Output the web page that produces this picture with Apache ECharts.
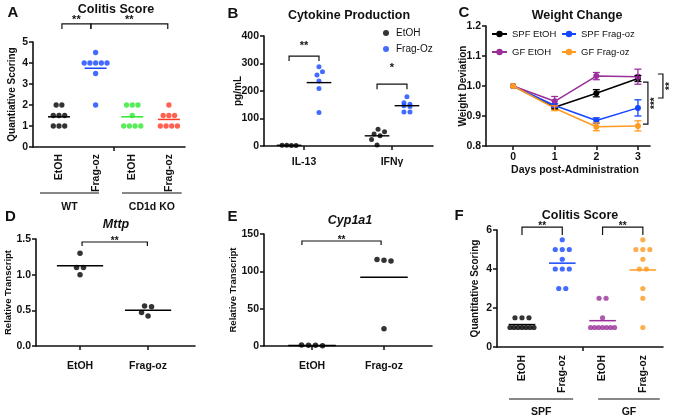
<!DOCTYPE html>
<html><head><meta charset="utf-8">
<script src="https://cdn.jsdelivr.net/npm/echarts@6/dist/echarts.min.js"></script>
<style>html,body{margin:0;padding:0;background:#fff}#c{width:676px;height:419px}</style>
</head><body><div id="c"></div>
<script>
// ================= DATA =================
// Panel A – Colitis Score (WT / CD1d KO)
const aCategories = ['EtOH', 'Frag-oz', 'EtOH', 'Frag-oz'];
const aGroups = ['WT', 'CD1d KO'];
const aWtEtoh = [2, 2, 1.5, 1.5, 1.5, 1, 1, 1];
const aWtFrag = [4.5, 4, 4, 4, 4, 4, 3.5, 2];
const aKoEtoh = [2, 2, 2, 1.5, 1, 1, 1, 1];
const aKoFrag = [2, 1.5, 1.5, 1.5, 1, 1, 1, 1];
const aSigLabels = ['**', '**'];

// Panel B – Cytokine Production
const bCategories = ['IL-13', 'IFNγ'];
const bTreatments = ['EtOH', 'Frag-Oz'];
const bEtohIl13 = [3, 2, 2, 3];
const bEtohIfng = [61, 52, 44, 37, 24, 4];
const bFragIl13 = [288, 270, 258, 236, 209, 122];
const bFragIfng = [179, 157, 152, 146, 144, 124, 124];
const bSigLabels = ['**', '*'];

// Panel C – Weight Change
const cDays = [0, 1, 2, 3];
const cNames = ['SPF EtOH', 'SPF Frag-oz', 'GF EtOH', 'GF Frag-oz'];
const cSpfEtoh = [1.0, 0.929, 0.976, 1.025];
const cSpfEtohErr = [0, 0.005, 0.012, 0.010];
const cSpfFrag = [1.0, 0.935, 0.885, 0.927];
const cSpfFragErr = [0, 0.006, 0.009, 0.027];
const cGfEtoh = [1.0, 0.949, 1.033, 1.031];
const cGfEtohErr = [0, 0.016, 0.012, 0.025];
const cGfFrag = [1.0, 0.926, 0.864, 0.867];
const cGfFragErr = [0, 0.008, 0.013, 0.017];
const cSigLabels = ['***', '**'];

// Panel D – Mttp
const dCategories = ['EtOH', 'Frag-oz'];
const dEtoh = [1.3, 1.1, 1.1, 1.0];
const dFrag = [0.56, 0.55, 0.47, 0.42];

// Panel E – Cyp1a1
const eCategories = ['EtOH', 'Frag-oz'];
const eEtoh = [1.2, 0.9, 0.2, 1.0];
const eFrag = [115, 114, 116, 23];

// Panel F – Colitis Score (SPF / GF)
const fCategories = ['EtOH', 'Frag-oz', 'EtOH', 'Frag-oz'];
const fGroups = ['SPF', 'GF'];
const fSpfEtoh = [1.5, 1.5, 1.5, 1, 1, 1, 1, 1, 1, 1];
const fSpfFrag = [5.5, 5, 5, 5, 4.5, 4, 4, 4, 3, 3];
const fGfEtoh = [2.5, 2.5, 1.5, 1, 1, 1, 1, 1, 1, 1];
const fGfFrag = [5.5, 5, 5, 5, 4.5, 4, 4, 3, 2.5, 1];

// ================= LAYOUT / STYLE =================
const FONT = '"Liberation Sans", Arial, Helvetica, sans-serif';
const INK = '#111111';
const BLUE = '#1546ff', GREEN = '#2ee82e', RED = '#ff3a24', PURPLE = '#9a2f9a', ORANGE = '#ff9a22';

const G = [
  {left: 33,  top: 42,  width: 152, height: 105, xmin: -0.71,  xmax: 3.44,  ymin: 0,   ymax: 5,   yint: 1},
  {left: 264, top: 36,  width: 169, height: 110, xmin: -0.455, xmax: 1.466, ymin: 0,   ymax: 400, yint: 100},
  {left: 486, top: 26,  width: 164, height: 120, xmin: -0.65,  xmax: 3.29,  ymin: 0.8, ymax: 1.2, yint: 0.1},
  {left: 36,  top: 239, width: 159, height: 107, xmin: -0.647, xmax: 1.69,  ymin: 0,   ymax: 1.5, yint: 0.5},
  {left: 264, top: 234, width: 168, height: 112, xmin: -0.667, xmax: 1.667, ymin: 0,   ymax: 150, yint: 50},
  {left: 497, top: 230, width: 166, height: 117, xmin: -0.62,  xmax: 3.5,   ymin: 0,   ymax: 6,   yint: 2}
];

const mean = a => a.reduce((s, v) => s + v, 0) / a.length;

// beeswarm jitter (pixel space) -> data coordinates
function swarm(vals, idx, g, d, maxRow) {
  const ypx = g.height / (g.ymax - g.ymin);
  const xpx = g.width / (g.xmax - g.xmin);
  const pts = vals.map(v => ({v, py: v * ypx, dx: 0}));
  const order = pts.slice().sort((a, b) => b.py - a.py);
  const rows = [];
  order.forEach(p => {
    const r = rows[rows.length - 1];
    if (r && Math.abs(r[0].py - p.py) < 2) r.push(p); else rows.push([p]);
  });
  const placed = [];
  rows.filter(r => r.length > 1).forEach(r => {
    const sp = Math.min(d, maxRow / (r.length - 1));
    r.forEach((p, i) => { p.dx = (i - (r.length - 1) / 2) * sp; placed.push(p); });
  });
  rows.filter(r => r.length === 1).forEach(([p]) => {
    for (let k = 0; k < 400; k++) {
      const c = (k % 2 ? 1 : -1) * Math.ceil(k / 2) * 0.5;
      if (placed.every(q => Math.hypot(q.dx - c, q.py - p.py) >= d)) { p.dx = c; break; }
    }
    placed.push(p);
  });
  return pts.map(p => [idx + p.dx / xpx, p.v]);
}

function segSeries(gi, segs, color, w) {
  return {type: 'custom', xAxisIndex: gi, yAxisIndex: gi, clip: false, silent: true, z: 4,
    data: segs,
    renderItem: (p, api) => {
      const a = api.coord([api.value(0), api.value(1)]), b = api.coord([api.value(2), api.value(3)]);
      return {type: 'line', shape: {x1: a[0], y1: a[1], x2: b[0], y2: b[1]}, style: {stroke: color, lineWidth: w}};
    }};
}

function bracketSeries(gi, list, drop, fs) {
  return {type: 'custom', xAxisIndex: gi, yAxisIndex: gi, clip: false, silent: true, z: 5,
    data: list.map(b => [b.x1, b.y, b.x2]),
    renderItem: (p, api) => {
      const b = list[p.dataIndex];
      const a = api.coord([b.x1, b.y]), c = api.coord([b.x2, b.y]);
      return {type: 'group', children: [
        {type: 'polyline', shape: {points: [[a[0], a[1] + drop], [a[0], a[1]], [c[0], c[1]], [c[0], c[1] + drop]]},
          style: {stroke: INK, lineWidth: 1.2, fill: null}},
        {type: 'text', x: (a[0] + c[0]) / 2, y: a[1] - b.gap + fs * 0.28,
          style: {text: b.label, align: 'center', verticalAlign: 'middle', font: 'bold ' + fs + 'px ' + FONT, fill: INK}}
      ]};
    }};
}

function groupSeries(gi, groups, lineDy, textDy) {
  return {type: 'custom', xAxisIndex: gi, yAxisIndex: gi, clip: false, silent: true, z: 5,
    data: groups.map(g => [g.x1, 0, g.x2]),
    renderItem: (p, api) => {
      const g = groups[p.dataIndex];
      const a = api.coord([g.x1, 0]), b = api.coord([g.x2, 0]);
      return {type: 'group', children: [
        {type: 'line', shape: {x1: a[0], y1: a[1] + lineDy, x2: b[0], y2: a[1] + lineDy}, style: {stroke: INK, lineWidth: 1.1}},
        {type: 'text', x: (a[0] + b[0]) / 2, y: a[1] + textDy,
          style: {text: g.label, align: 'center', verticalAlign: 'middle', font: 'bold 10.5px ' + FONT, fill: INK}}
      ]};
    }};
}

function errSeries(color, vals, errs) {
  return {type: 'custom', xAxisIndex: 2, yAxisIndex: 2, clip: false, silent: true, z: 3,
    data: cDays.map((d, i) => [d, vals[i], errs[i]]),
    renderItem: (p, api) => {
      const x = api.value(0), y = api.value(1), e = api.value(2);
      if (!e) return null;
      const t = api.coord([x, y + e]), b = api.coord([x, y - e]), cw = 3.5;
      const st = {stroke: color, lineWidth: 1.3};
      return {type: 'group', children: [
        {type: 'line', shape: {x1: t[0], y1: t[1], x2: b[0], y2: b[1]}, style: st},
        {type: 'line', shape: {x1: t[0] - cw, y1: t[1], x2: t[0] + cw, y2: t[1]}, style: st},
        {type: 'line', shape: {x1: b[0] - cw, y1: b[1], x2: b[0] + cw, y2: b[1]}, style: st}
      ]};
    }};
}

const labelStyle = {color: INK, fontFamily: FONT, fontWeight: 'bold', fontSize: 10.5};
function xAxisFor(gi, o) {
  const g = G[gi];
  return {type: 'value', gridIndex: gi, min: g.xmin, max: g.xmax,
    axisLine: {show: true, onZero: false, lineStyle: {color: INK, width: 1.6}},
    axisTick: {show: o.ticks.length > 0, length: 4, customValues: o.ticks, lineStyle: {color: INK, width: 1.5}},
    axisLabel: Object.assign({show: true, customValues: o.labels, formatter: o.fmt, rotate: o.rotate || 0, margin: o.margin}, labelStyle),
    splitLine: {show: false},
    name: o.name || '', nameLocation: 'middle', nameGap: o.nameGap || 15,
    nameTextStyle: {color: INK, fontFamily: FONT, fontWeight: 'bold', fontSize: 10.5, padding: o.namePad || 0}};
}
function yAxisFor(gi, o) {
  const g = G[gi];
  return {type: 'value', gridIndex: gi, min: g.ymin, max: g.ymax, interval: g.yint,
    axisLine: {show: true, onZero: false, lineStyle: {color: INK, width: 1.6}},
    axisTick: {show: true, length: 4, lineStyle: {color: INK, width: 1.5}},
    axisLabel: Object.assign({show: true, margin: 5, formatter: o.fmt}, labelStyle),
    splitLine: {show: false},
    name: o.name, nameLocation: 'middle', nameGap: o.nameGap, nameMoveOverlap: false,
    nameTextStyle: {color: INK, fontFamily: FONT, fontWeight: 'bold', fontSize: o.nfs || 10}};
}

const series = [];
// ---- A ----
const aSets = [aWtEtoh, aWtFrag, aKoEtoh, aKoFrag];
const aColors = ['#000000', BLUE, GREEN, RED];
aSets.forEach((vals, i) => {
  series.push({type: 'scatter', name: 'A' + i, xAxisIndex: 0, yAxisIndex: 0, symbolSize: 5.3, z: 3,
    itemStyle: {color: aColors[i]}, data: swarm(vals, i, G[0], 5.7, 24)});
  series.push(segSeries(0, [[i - 0.3, mean(vals), i + 0.3, mean(vals)]], aColors[i], 1.5));
});
series.push(bracketSeries(0, [
  {x1: 0.08, x2: 0.87, y: 5.86, gap: 7, label: aSigLabels[0]},
  {x1: 0.87, x2: 2.97, y: 5.86, gap: 7, label: aSigLabels[1]}], 5, 11));
series.push(groupSeries(0, [
  {x1: -0.52, x2: 1.09, label: aGroups[0]},
  {x1: 1.72, x2: 3.35, label: aGroups[1]}], 46, 60));

// ---- B ----
const bOff = 0.17;
const bSets = [[bEtohIl13, bEtohIfng], [bFragIl13, bFragIfng]];
const bColors = ['#000000', BLUE];
bSets.forEach((pair, t) => {
  const pts = [];
  const segs = [];
  pair.forEach((vals, c) => {
    const cx = c + (t === 0 ? -bOff : bOff);
    swarm(vals, cx, G[1], 6, 14).forEach(p => pts.push(p));
    segs.push([cx - 0.14, mean(vals), cx + 0.14, mean(vals)]);
  });
  series.push({type: 'scatter', name: bTreatments[t], xAxisIndex: 1, yAxisIndex: 1, symbolSize: 5, z: 3,
    itemStyle: {color: bColors[t]}, data: pts});
  series.push(segSeries(1, segs, '#000000', 1.4));
});
series.push(bracketSeries(1, [
  {x1: -bOff, x2: bOff, y: 327, gap: 13, label: bSigLabels[0]},
  {x1: 1 - bOff, x2: 1 + bOff, y: 225, gap: 19, label: bSigLabels[1]}], 5, 11));

// ---- C ----
const cVals = [cSpfEtoh, cSpfFrag, cGfEtoh, cGfFrag];
const cErrs = [cSpfEtohErr, cSpfFragErr, cGfEtohErr, cGfFragErr];
const cColors = ['#000000', BLUE, PURPLE, ORANGE];
cVals.forEach((vals, i) => {
  series.push({type: 'line', name: cNames[i], xAxisIndex: 2, yAxisIndex: 2, symbol: 'circle', symbolSize: 6,
    itemStyle: {color: cColors[i]}, lineStyle: {color: cColors[i], width: 1.5}, z: 2 + i * 0.1,
    data: cDays.map((d, k) => [d, vals[k]])});
  series.push(errSeries(cColors[i], vals, cErrs[i]));
});
const cSig = [{y1: 1.013, y2: 0.873, off: 5, label: cSigLabels[0]}, {y1: 1.04, y2: 0.96, off: 20, label: cSigLabels[1]}];
series.push({type: 'custom', xAxisIndex: 2, yAxisIndex: 2, clip: false, silent: true, z: 5,
  data: cSig.map(s => [cDays[3], s.y1, s.y2]),
  renderItem: (p, api) => {
    const s = cSig[p.dataIndex];
    const a = api.coord([cDays[3], s.y1]), b = api.coord([cDays[3], s.y2]);
    const x0 = a[0] + s.off, x1 = x0 + 5;
    return {type: 'group', children: [
      {type: 'polyline', shape: {points: [[x0, a[1]], [x1, a[1]], [x1, b[1]], [x0, b[1]]]}, style: {stroke: INK, lineWidth: 1.2, fill: null}},
      {type: 'text', x: x1 + 7, y: (a[1] + b[1]) / 2, rotation: Math.PI / 2,
        style: {text: s.label, align: 'center', verticalAlign: 'middle', font: 'bold 10px ' + FONT, fill: INK}}
    ]};
  }});

// ---- D ----
[dEtoh, dFrag].forEach((vals, i) => {
  series.push({type: 'scatter', name: 'D' + i, xAxisIndex: 3, yAxisIndex: 3, symbolSize: 5.5, z: 3,
    itemStyle: {color: '#000000'}, data: swarm(vals, i, G[3], 7, 24)});
  series.push(segSeries(3, [[i - 0.34, mean(vals), i + 0.34, mean(vals)]], '#000000', 1.5));
});
series.push(bracketSeries(3, [{x1: 0.03, x2: 0.99, y: 1.458, gap: 4, label: '**'}], 4, 10));

// ---- E ----
[eEtoh, eFrag].forEach((vals, i) => {
  series.push({type: 'scatter', name: 'E' + i, xAxisIndex: 4, yAxisIndex: 4, symbolSize: 5.5, z: 3,
    itemStyle: {color: '#000000'}, data: swarm(vals, i, G[4], 7, 24)});
  series.push(segSeries(4, [[i - 0.33, mean(vals), i + 0.33, mean(vals)]], '#000000', 1.5));
});
series.push(bracketSeries(4, [{x1: -0.14, x2: 0.96, y: 140.6, gap: 4, label: '**'}], 4, 10));

// ---- F ----
const fSets = [fSpfEtoh, fSpfFrag, fGfEtoh, fGfFrag];
const fColors = ['#000000', BLUE, PURPLE, ORANGE];
fSets.forEach((vals, i) => {
  series.push({type: 'scatter', name: 'F' + i, xAxisIndex: 5, yAxisIndex: 5, symbolSize: 5.2, z: 3,
    itemStyle: {color: fColors[i]}, data: swarm(vals, i, G[5], 7, 24)});
  series.push(segSeries(5, [[i - 0.33, mean(vals), i + 0.33, mean(vals)]], fColors[i], 1.5));
});
series.push(bracketSeries(5, [
  {x1: 0, x2: 1, y: 6.15, gap: 4, label: '**'},
  {x1: 2, x2: 3, y: 6.15, gap: 4, label: '**'}], 8, 10));
series.push(groupSeries(5, [
  {x1: -0.32, x2: 1.27, label: fGroups[0]},
  {x1: 1.89, x2: 3.42, label: fGroups[1]}], 52, 65));

// ---- annotations (titles, panel letters) ----
const txt = (t, x, y, font) => ({type: 'text', x, y, silent: true,
  style: {text: t, align: 'center', verticalAlign: 'middle', font: font + ' ' + FONT, fill: INK}});

const legendText = {fontFamily: FONT, fontSize: 10, color: INK, lineHeight: 12};
const legendTextC = {fontFamily: FONT, fontSize: 9.5, color: INK, lineHeight: 12};
const option = {
  animation: false,
  backgroundColor: '#ffffff',
  grid: G.map(g => ({left: g.left, top: g.top, width: g.width, height: g.height, containLabel: false})),
  xAxis: [
    xAxisFor(0, {ticks: [1.5], labels: [0, 1, 2, 3], fmt: v => aCategories[Math.round(v)], rotate: 90, margin: 7}),
    xAxisFor(1, {ticks: [0, 1], labels: [0, 1], fmt: v => bCategories[Math.round(v)], margin: 11}),
    xAxisFor(2, {ticks: cDays, labels: cDays, fmt: v => String(v), margin: 6,
      name: 'Days post-Administration', nameGap: 19, namePad: [0, 0, 0, 14]}),
    xAxisFor(3, {ticks: [0, 1], labels: [0, 1], fmt: v => dCategories[Math.round(v)], margin: 15}),
    xAxisFor(4, {ticks: [0, 1], labels: [0, 1], fmt: v => eCategories[Math.round(v)], margin: 15}),
    xAxisFor(5, {ticks: [1.5], labels: [0, 1, 2, 3], fmt: v => fCategories[Math.round(v)], rotate: 90, margin: 8})
  ],
  yAxis: [
    yAxisFor(0, {name: 'Quantiative Scoring', nameGap: 16, fmt: v => String(v)}),
    yAxisFor(1, {name: 'pg/mL', nameGap: 21, fmt: v => String(v)}),
    yAxisFor(2, {name: 'Weight Deviation', nameGap: 18, fmt: v => v.toFixed(1)}),
    yAxisFor(3, {name: 'Relative Transcript', nameGap: 23, nfs: 9.5, fmt: v => v.toFixed(1)}),
    yAxisFor(4, {name: 'Relative Transcript', nameGap: 26, nfs: 9.5, fmt: v => String(v)}),
    yAxisFor(5, {name: 'Quantitative Scoring', nameGap: 17, fmt: v => String(v)})
  ],
  legend: [
    {data: bTreatments, left: 383, top: 27, padding: 0, orient: 'vertical', itemWidth: 10, itemHeight: 6, itemGap: 4,
      icon: 'circle', textStyle: legendText, selectedMode: false},
    {data: [cNames[0], cNames[2]], left: 491, top: 28, padding: 0, orient: 'vertical', itemWidth: 15, itemHeight: 8,
      itemGap: 6, textStyle: legendTextC, selectedMode: false},
    {data: [cNames[1], cNames[3]], left: 561, top: 28, padding: 0, orient: 'vertical', itemWidth: 14, itemHeight: 8,
      itemGap: 6, textStyle: legendTextC, selectedMode: false}
  ],
  graphic: [
    txt('A', 13, 13, 'bold 15px'), txt('B', 233, 14, 'bold 15px'), txt('C', 464, 13, 'bold 15px'),
    txt('D', 10.5, 217, 'bold 15px'), txt('E', 232.5, 217, 'bold 15px'), txt('F', 459, 216, 'bold 15px'),
    txt('Colitis Score', 116, 9.5, 'bold 12.5px'),
    txt('Cytokine Production', 349, 15.5, 'bold 12.5px'),
    txt('Weight Change', 577, 16, 'bold 12.5px'),
    txt('Mttp', 116, 225, 'italic bold 12.5px'),
    txt('Cyp1a1', 350, 221, 'italic bold 12.5px'),
    txt('Colitis Score', 580, 216, 'bold 12.5px')
  ],
  series
};

const chart = echarts.init(document.getElementById('c'), null, {renderer: 'canvas'});
chart.setOption(option);
</script>
</body></html>
